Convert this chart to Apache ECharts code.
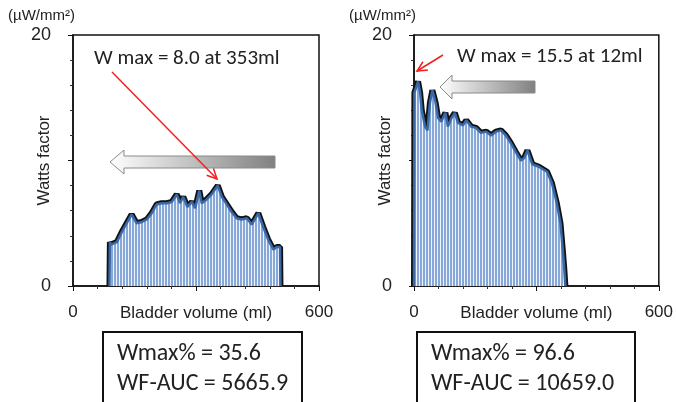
<!DOCTYPE html>
<html>
<head>
<meta charset="utf-8">
<script src="https://cdn.jsdelivr.net/npm/echarts@6/dist/echarts.min.js"></script>
<style>
  html, body { margin: 0; padding: 0; background: #fff; }
  #main { width: 676px; height: 402px; }
</style>
</head>
<body>
<div id="main"></div>
<script>
// values (ml, Watts factor)
var leftVol = [89, 90, 93, 107, 119, 131, 143, 155, 168, 180, 192, 204, 216, 229, 241, 253, 261, 269, 279, 290, 298, 308, 314, 326, 338, 353, 363, 375, 387, 399, 411, 424, 436, 452, 464, 476, 489, 497, 505, 506];
var leftWf = [0, 3.5, 3.3, 3.5, 4.3, 5.0, 5.7, 5.0, 5.1, 5.3, 5.8, 6.5, 6.6, 6.6, 6.7, 7.3, 6.6, 7.1, 6.3, 6.7, 6.2, 7.6, 6.6, 6.9, 7.3, 8.0, 7.1, 6.5, 5.9, 5.4, 5.3, 5.4, 4.9, 5.8, 4.7, 3.7, 2.9, 3.1, 3.1, 0];

var rightVol = [0, 1, 10, 15, 19, 27, 33, 39, 45, 53, 59, 67, 77, 83, 92, 100, 108, 120, 128, 140, 152, 164, 177, 189, 201, 213, 225, 237, 249, 262, 270, 278, 290, 306, 326, 338, 350, 359, 364, 368, 371];
var rightWf = [0, 15.4, 16.3, 15.4, 14.0, 12.7, 12.4, 14.6, 15.6, 14.6, 13.4, 13.1, 13.8, 12.7, 13.4, 13.8, 13.0, 12.8, 13.2, 12.7, 12.6, 12.2, 12.3, 12.0, 12.3, 12.4, 12.0, 11.4, 10.7, 10.0, 10.2, 10.8, 9.7, 9.5, 9.1, 8.2, 6.6, 5.0, 3.1, 1.5, 0];

var xTicks = [0, 600];
var yTicks = [0, 20];
var peakLabels = ['W max = 8.0 at 353ml', 'W max = 15.5 at 12ml'];
var boxLines = [['Wmax% = 35.6', 'WF-AUC = 5665.9'], ['Wmax% = 96.6', 'WF-AUC = 10659.0']];

var AX = 'Liberation Sans, Arial, sans-serif';
var CAL = 'Carlito, Lato, sans-serif';

function pairs(xs, ys) {
  return xs.map(function(x, i) { return [x, ys[i]]; });
}

// thin vertical stripes like the bar fill in the figure
function stripes() {
  var c = document.createElement('canvas');
  c.width = 3; c.height = 4;
  var ctx = c.getContext('2d');
  ctx.fillStyle = '#eef3fb';
  ctx.fillRect(0, 0, 3, 4);
  ctx.fillStyle = '#86a8d8';
  ctx.fillRect(0, 0, 2, 4);
  return c;
}
var pattern = stripes();

function xAxisOf(i) {
  return {
    type: 'value', gridIndex: i, min: 0, max: 600, interval: 300,
    name: 'Bladder volume (ml)', nameLocation: 'middle', nameGap: 19, nameMoveOverlap: false,
    nameTextStyle: { color: '#222', fontSize: 17, fontFamily: AX },
    axisLine: { lineStyle: { color: '#111', width: 1.5 } },
    axisTick: { length: 5, lineStyle: { color: '#111' } },
    minorTick: { show: true, splitNumber: 5, length: 3, lineStyle: { color: '#333' } },
    splitLine: { show: false },
    axisLabel: {
      margin: 18, color: '#222', fontSize: 17, fontFamily: AX,
      formatter: function(v) { return xTicks.indexOf(v) >= 0 ? String(v) : ''; }
    }
  };
}

function yAxisOf(i) {
  return {
    type: 'value', gridIndex: i, min: 0, max: 20, interval: 10,
    name: 'Watts factor', nameLocation: 'middle', nameGap: 20, nameRotate: 90, nameMoveOverlap: false,
    nameTextStyle: { color: '#222', fontSize: 17, fontFamily: AX },
    axisLine: { lineStyle: { color: '#111', width: 1.5 } },
    axisTick: { length: 5, lineStyle: { color: '#111' } },
    minorTick: { show: true, splitNumber: 5, length: 3, lineStyle: { color: '#333' } },
    splitLine: { show: false },
    axisLabel: {
      margin: 22, color: '#222', fontSize: 18, fontFamily: AX,
      formatter: function(v) { return yTicks.indexOf(v) >= 0 ? String(v) : ''; }
    }
  };
}

function traceSeries(i, data) {
  return [{
    type: 'line', xAxisIndex: i, yAxisIndex: i, data: data,
    symbol: 'none', z: 2, silent: true,
    lineStyle: { color: '#111', width: 6 }
  }, {
    type: 'line', xAxisIndex: i, yAxisIndex: i, data: data,
    symbol: 'none', z: 3, silent: true,
    lineStyle: { color: '#3a68a6', width: 2.5 },
    areaStyle: { color: { image: pattern, repeat: 'repeat' }, opacity: 1 }
  }];
}

// open V arrowhead
function arrow(x1, y1, x2, y2) {
  var a = Math.atan2(y2 - y1, x2 - x1), L = 11, w = 0.45;
  return [
    { type: 'line', shape: { x1: x1, y1: y1, x2: x2, y2: y2 }, style: { stroke: '#f0221f', lineWidth: 1.5 } },
    { type: 'polyline', shape: { points: [
      [x2 - L * Math.cos(a - w), y2 - L * Math.sin(a - w)], [x2, y2],
      [x2 - L * Math.cos(a + w), y2 - L * Math.sin(a + w)] ] },
      style: { stroke: '#f0221f', lineWidth: 1.5, fill: null } }
  ];
}

function bigArrow(tip, baseX, right, cy) {
  return {
    type: 'polygon',
    shape: { points: [[tip, cy], [baseX, cy - 12], [baseX, cy - 6], [right, cy - 6], [right, cy + 6], [baseX, cy + 6], [baseX, cy + 12]] },
    style: {
      fill: new echarts.graphic.LinearGradient(0, 0, 1, 0, [
        { offset: 0, color: '#ffffff' }, { offset: 1, color: '#808080' }
      ]),
      stroke: '#8a8a8a', lineWidth: 1
    }
  };
}

function txt(x, y, s, size, font) {
  return { type: 'text', x: x, y: y, style: { text: s, fill: '#222', font: size + 'px ' + font, textVerticalAlign: 'middle' } };
}

function box(x, w, lines) {
  return [
    { type: 'rect', shape: { x: x, y: 332, width: w, height: 90 }, style: { fill: '#fff', stroke: '#111', lineWidth: 2 } },
    txt(x + 14, 354, lines[0], 24, CAL),
    txt(x + 14, 384, lines[1], 24, CAL)
  ];
}

var graphics = [
  txt(8, 16, '(µW/mm²)', 15, AX),
  txt(349, 16, '(µW/mm²)', 15, AX),
  txt(94, 59, peakLabels[0], 21, CAL),
  txt(457, 57, peakLabels[1], 21, CAL),
  bigArrow(110, 124, 275, 162),
  bigArrow(440, 452, 535, 87)
].concat(arrow(112, 72, 217, 179), arrow(443, 55, 417, 71), box(103, 199, boxLines[0]), box(417, 218, boxLines[1]));

var chart = echarts.init(document.getElementById('main'));
chart.setOption({
  animation: false,
  grid: [
    { left: 73, top: 35, width: 246, height: 251, show: true, borderColor: '#111', borderWidth: 1.5 },
    { left: 414, top: 35, width: 248, height: 251, show: true, borderColor: '#111', borderWidth: 1.5 }
  ],
  xAxis: [xAxisOf(0), xAxisOf(1)],
  yAxis: [yAxisOf(0), yAxisOf(1)],
  series: traceSeries(0, pairs(leftVol, leftWf)).concat(traceSeries(1, pairs(rightVol, rightWf))),
  graphic: graphics
});
</script>
</body>
</html>
